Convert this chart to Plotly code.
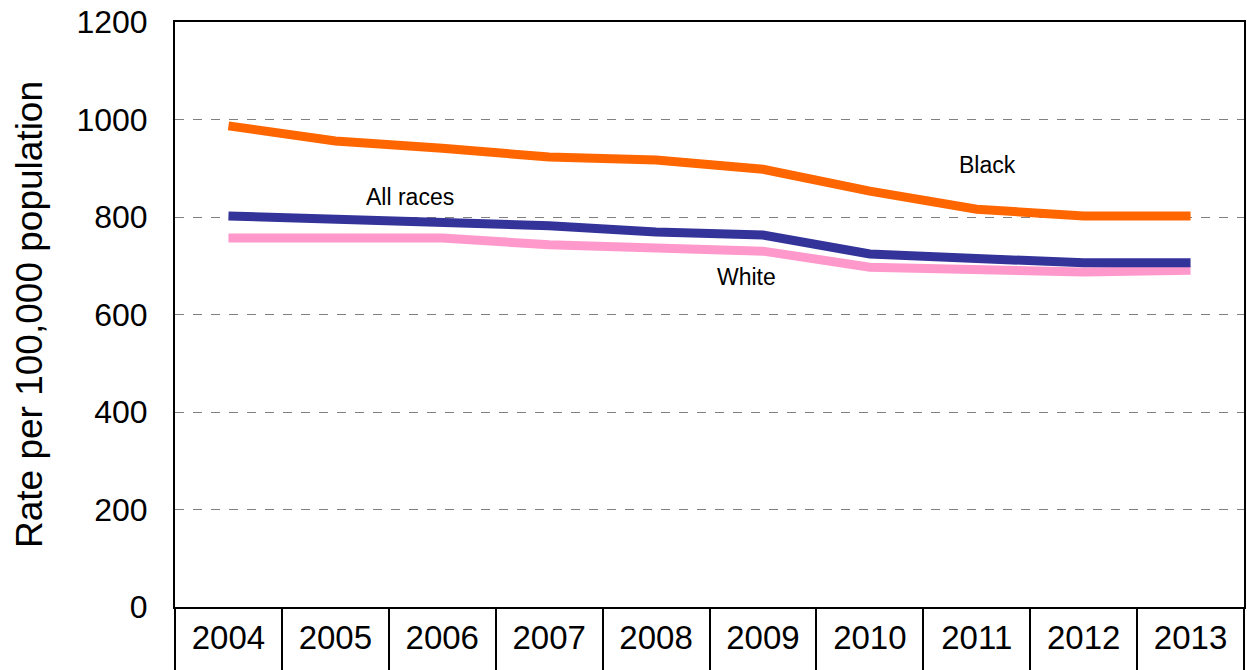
import plotly.graph_objects as go

# Data
years = ["2004", "2005", "2006", "2007", "2008", "2009", "2010", "2011", "2012", "2013"]
black = [987, 956, 941, 923, 917, 898, 853, 816, 802, 802]
all_races = [802, 796, 790, 782, 769, 763, 724, 714, 706, 706]
white = [757, 757, 757, 743, 736, 730, 697, 691, 687, 691]

y_ticks = [0, 200, 400, 600, 800, 1000, 1200]

# Label positions (category index, value)
labels = [
    ("Black", 7.1, 907),
    ("All races", 1.7, 841),
    ("White", 4.85, 677),
]

FONT = "Liberation Sans, Arial, sans-serif"

fig = go.Figure()

series = [
    ("White", white, "#FF99CC"),
    ("All races", all_races, "#333399"),
    ("Black", black, "#FF6600"),
]
for name, vals, color in series:
    fig.add_trace(go.Scatter(
        x=list(range(len(years))), y=vals, mode="lines", name=name,
        line=dict(color=color, width=9), hoverinfo="x+y",
    ))

for text, xi, yv in labels:
    fig.add_annotation(x=xi, y=yv, text=text, showarrow=False,
                       font=dict(family=FONT, size=23, color="black"))

n = len(years)
fig.update_layout(
    width=1247, height=670,
    margin=dict(l=175, r=3, t=22, b=63),
    paper_bgcolor="white", plot_bgcolor="white",
    showlegend=False,
    font=dict(family=FONT, color="black"),
    xaxis=dict(
        range=[-0.5, n - 0.5], automargin=False,
        tickmode="array", tickvals=list(range(n)), ticktext=years,
        ticks="", showgrid=False, zeroline=False,
        tickfont=dict(size=33), ticklabelstandoff=0,
        showline=True, linecolor="black", linewidth=2, mirror=True,
    ),
    # second axis only draws the cell separators under the plot
    xaxis2=dict(
        overlaying="x", side="bottom", automargin=False,
        range=[-0.5, n - 0.5],
        tickmode="array", tickvals=[i - 0.5 for i in range(n + 1)],
        ticks="outside", ticklen=70, tickwidth=2, tickcolor="black",
        showticklabels=False, showgrid=False, zeroline=False,
    ),
    yaxis=dict(
        range=[0, 1200], automargin=False,
        tickmode="array", tickvals=y_ticks,
        ticks="", tickfont=dict(size=32), ticklabelstandoff=19,
        showgrid=True, gridcolor="#808080", griddash="dash", gridwidth=1.3,
        zeroline=False,
        showline=True, linecolor="black", linewidth=2, mirror=True,
        title=dict(text="Rate per 100,000 population", font=dict(size=37), standoff=22),
    ),
)

# invisible trace to anchor the separator axis
fig.add_trace(go.Scatter(x=[0], y=[0], xaxis="x2", mode="markers",
                         marker=dict(opacity=0), hoverinfo="skip", showlegend=False))

fig.write_html("out.html", config={"displayModeBar": False},
               post_script="document.body.style.margin='0';document.body.style.overflow='hidden';")
